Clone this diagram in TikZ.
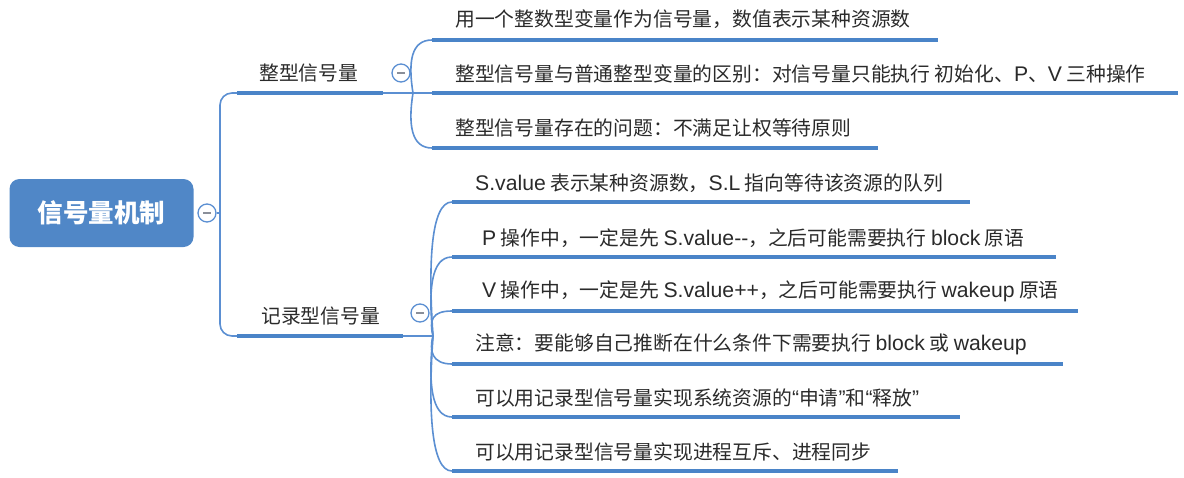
\documentclass[tikz,border=0pt]{standalone}
\usepackage{fontspec}
\setmainfont{Noto Sans CJK SC}
\newfontfamily\latf[Scale=1.07]{Liberation Sans}
\newcommand{\lt}[1]{{\latf #1}}
\definecolor{rootblue}{HTML}{5087C7}
\definecolor{lineblue}{HTML}{5B8FD2}
\definecolor{ulblue}{HTML}{4A84C8}
\definecolor{txt}{HTML}{2A2A2A}
\definecolor{minusgray}{HTML}{8A8F99}
\tikzset{
  conn/.style={draw=lineblue, line width=1.6pt},
  ul/.style={draw=ulblue, line width=4.2pt},
  leaf/.style={anchor=west, inner sep=0pt, font=\fontsize{19.8}{19.8}\selectfont, text=txt},
  blabel/.style={anchor=west, inner sep=0pt, font=\fontsize{19.8}{19.8}\selectfont, text=txt},
  toggle/.style={circle, draw=lineblue, line width=1.3pt, fill=white, minimum size=18pt, inner sep=0pt,
    path picture={\draw[minusgray, line width=1.6pt] ([xshift=-4pt]path picture bounding box.center) -- ([xshift=4pt]path picture bounding box.center);}},
  rootbox/.style={rectangle, rounded corners=10pt, fill=rootblue, text=white,
    font=\fontsize{25.5}{25.5}\selectfont\bfseries, minimum width=184pt, minimum height=68pt, inner sep=0pt}
}
\begin{document}
\begin{tikzpicture}[x=1pt, y=-1pt]
\useasboundingbox (0,0) rectangle (1184,477);
% root
\node[rootbox] (root) at (101.5,213) {信号量机制};
\node[toggle] (t0) at (207,213) {};
\coordinate (sp) at (220,213);
\draw[conn] (t0.east) -- (sp);
% branch 1
\coordinate (b1s) at (237,93);
\coordinate (b1e) at (383,93);
\coordinate (b1p) at (413,93);
\node[blabel] (b1) at (259,73) {整型信号量};
\node[toggle] (t1) at (401,73) {};
\draw[conn, rounded corners=12pt] (sp) -- (220,93) -- (b1s);
\draw[conn] (b1s) -- (b1p);
\draw[ul] (b1s) -- (b1e);
% branch 2
\coordinate (b2s) at (237,336);
\coordinate (b2e) at (403,336);
\coordinate (b2p) at (433,336);
\node[blabel] (b2) at (261,316) {记录型信号量};
\node[toggle] (t2) at (420,313) {};
\draw[conn, rounded corners=12pt] (sp) -- (220,336) -- (b2s);
\draw[conn] (b2s) -- (b2p);
\draw[ul] (b2s) -- (b2e);
% children of branch 1
\coordinate (c11s) at (432,40);  \coordinate (c11e) at (938,40);
\coordinate (c12s) at (432,93);  \coordinate (c12e) at (1178,93);
\coordinate (c13s) at (432,148); \coordinate (c13e) at (878,148);
\draw[conn] (b1p) .. controls (408,62) and (411,40) .. (c11s);
\draw[conn] (b1p) -- (c12s);
\draw[conn] (b1p) .. controls (408,124) and (411,148) .. (c13s);
\draw[ul] (c11s) -- (c11e);
\draw[ul] (c12s) -- (c12e);
\draw[ul] (c13s) -- (c13e);
\node[leaf] (l11) at (455,19) {用一个整数型变量作为信号量，数值表示某种资源数};
\node[leaf] (l12) at (455,74) {整型信号量与普通整型变量的区别：对信号量只能执行 初始化、\lt{P}、\lt{V} 三种操作};
\node[leaf] (l13) at (455,128) {整型信号量存在的问题：不满足让权等待原则};
% children of branch 2
\coordinate (c21s) at (452,202); \coordinate (c21e) at (970,202);
\coordinate (c22s) at (452,257); \coordinate (c22e) at (1056,257);
\coordinate (c23s) at (452,311); \coordinate (c23e) at (1078,311);
\coordinate (c24s) at (452,364); \coordinate (c24e) at (1063,364);
\coordinate (c25s) at (452,417); \coordinate (c25e) at (960,417);
\coordinate (c26s) at (452,471); \coordinate (c26e) at (898,471);
\draw[conn] (b2p) .. controls (428,262) and (431,202) .. (c21s);
\draw[conn] (b2p) .. controls (428,290) and (431,257) .. (c22s);
\draw[conn] (b2p) .. controls (429,320) and (432,311) .. (c23s);
\draw[conn] (b2p) .. controls (429,351) and (432,364) .. (c24s);
\draw[conn] (b2p) .. controls (428,382) and (431,417) .. (c25s);
\draw[conn] (b2p) .. controls (428,410) and (431,471) .. (c26s);
\foreach \i in {1,...,6} { \draw[ul] (c2\i s) -- (c2\i e); }
\node[leaf] (l21) at (475,183) {\lt{S.value} 表示某种资源数，\lt{S.L} 指向等待该资源的队列};
\node[leaf] (l22) at (482,238) {\lt{P} 操作中，一定是先 \lt{S.value-{}-}，之后可能需要执行 \lt{block} 原语};
\node[leaf] (l23) at (482,291) {\lt{V} 操作中，一定是先 \lt{S.value++}，之后可能需要执行 \lt{wakeup} 原语};
\node[leaf] (l24) at (475,344) {注意：要能够自己推断在什么条件下需要执行 \lt{block} 或 \lt{wakeup}};
\node[leaf] (l25) at (475,398) {可以用记录型信号量实现系统资源的\lt{“}申请\lt{”}和\lt{“}释放\lt{”}};
\node[leaf] (l26) at (475,452) {可以用记录型信号量实现进程互斥、进程同步};
\end{tikzpicture}
\end{document}
